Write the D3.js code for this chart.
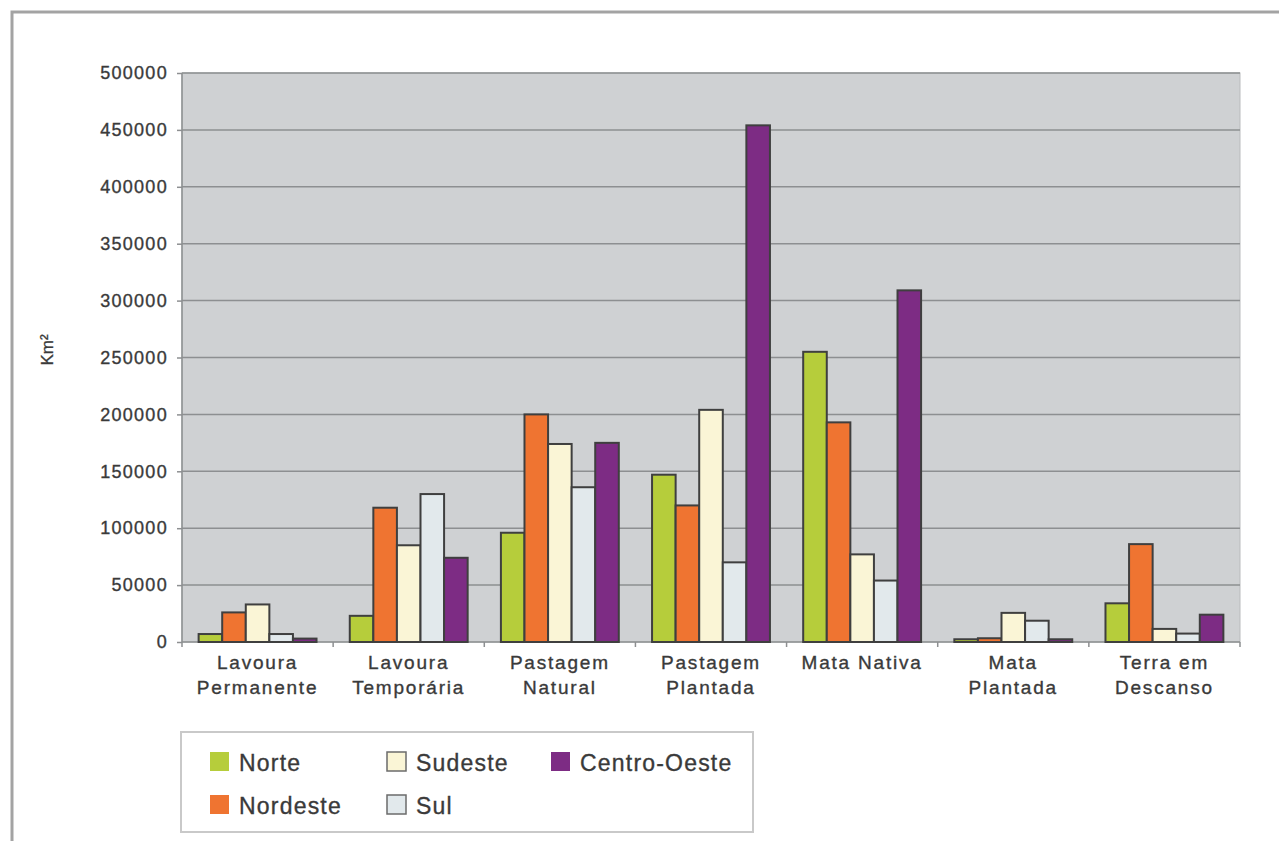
<!DOCTYPE html>
<html>
<head>
<meta charset="utf-8">
<script src="https://cdn.jsdelivr.net/npm/d3@7"></script>
<style>
  html, body { margin: 0; padding: 0; background: #fff; }
  svg { display: block; }
  text { font-family: "Liberation Sans", Arial, sans-serif; }
</style>
</head>
<body>
<svg id="chart" width="1279" height="841"></svg>
<script>
// categories (two-line labels)
const categories = [
  ["Lavoura", "Permanente"],
  ["Lavoura", "Temporária"],
  ["Pastagem", "Natural"],
  ["Pastagem", "Plantada"],
  ["Mata Nativa"],
  ["Mata", "Plantada"],
  ["Terra em", "Descanso"]
];
const regions = ["Norte", "Nordeste", "Sudeste", "Sul", "Centro-Oeste"];

// values in Km², one per category
const norte      = [7000, 23000, 96000, 147000, 255000, 2400, 34000];
const nordeste   = [26000, 118000, 200000, 120000, 193000, 3300, 86000];
const sudeste    = [33000, 85000, 174000, 204000, 77000, 25600, 11500];
const sul        = [7000, 130000, 136000, 70000, 54000, 18700, 7400];
const centroOeste = [3000, 74000, 175000, 454000, 309000, 2400, 24000];

const yTicks = [0, 50000, 100000, 150000, 200000, 250000, 300000, 350000, 400000, 450000, 500000];

const colors = {
  "Norte": "#b6cd3b",
  "Nordeste": "#ef7431",
  "Sudeste": "#faf5d6",
  "Sul": "#e2e9ec",
  "Centro-Oeste": "#7d2c84"
};

const seriesValues = { "Norte": norte, "Nordeste": nordeste, "Sudeste": sudeste, "Sul": sul, "Centro-Oeste": centroOeste };

const textColor = "#3a3a3a";
const svg = d3.select("#chart");
const plot = { left: 182, right: 1240, top: 73, bottom: 642 };

// outer frame (top and left edges)
svg.append("path")
  .attr("d", "M12,841 L12,12 L1279,12")
  .attr("fill", "none")
  .attr("stroke", "#a3a3a3")
  .attr("stroke-width", 3);

const x = d3.scaleBand()
  .domain(d3.range(categories.length))
  .range([plot.left, plot.right])
  .paddingInner(0.22)
  .paddingOuter(0.11);

const xs = d3.scaleBand()
  .domain(regions)
  .range([0, x.bandwidth()]);

const y = d3.scaleLinear()
  .domain([0, 500000])
  .range([plot.bottom, plot.top]);

// plot background
svg.append("rect")
  .attr("x", plot.left)
  .attr("y", plot.top)
  .attr("width", plot.right - plot.left)
  .attr("height", plot.bottom - plot.top)
  .attr("fill", "#cfd1d3")
  .attr("stroke", "#b9bbbd")
  .attr("stroke-width", 1);

// gridlines
svg.append("g")
  .selectAll("line")
  .data(yTicks)
  .enter()
  .append("line")
  .attr("x1", plot.left)
  .attr("x2", plot.right)
  .attr("y1", d => y(d))
  .attr("y2", d => y(d))
  .attr("stroke", "#8d8f91")
  .attr("stroke-width", 1.5);

// left axis line
svg.append("line")
  .attr("x1", plot.left).attr("x2", plot.left)
  .attr("y1", plot.top).attr("y2", plot.bottom)
  .attr("stroke", "#8d8f91")
  .attr("stroke-width", 1.5);

// y axis
const yAxis = svg.append("g")
  .attr("transform", `translate(${plot.left},0)`)
  .call(d3.axisLeft(y).tickValues(yTicks).tickSize(5).tickPadding(9).tickFormat(d3.format("d")));
yAxis.select(".domain").remove();
yAxis.selectAll(".tick line").attr("stroke", "#8d8f91").attr("stroke-width", 1.5);
yAxis.selectAll(".tick text")
  .attr("fill", textColor)
  .attr("stroke", textColor)
  .attr("stroke-width", 0.35)
  .attr("font-size", 18)
  .attr("letter-spacing", 1.3)
  .attr("font-family", "'Liberation Sans', Arial, sans-serif");

// x tick marks at category boundaries
const bounds = d3.range(categories.length + 1).map(i => plot.left + i * x.step());
svg.append("g")
  .selectAll("line")
  .data(bounds)
  .enter()
  .append("line")
  .attr("x1", d => d).attr("x2", d => d)
  .attr("y1", plot.bottom).attr("y2", plot.bottom + 5)
  .attr("stroke", "#8d8f91")
  .attr("stroke-width", 1.5);

// bars
const groups = svg.append("g")
  .selectAll("g")
  .data(categories.map((c, i) => i))
  .enter()
  .append("g")
  .attr("transform", i => `translate(${x(i)},0)`);

groups.selectAll("rect")
  .data(i => regions.map(r => ({ region: r, value: seriesValues[r][i] })))
  .enter()
  .append("rect")
  .attr("x", d => xs(d.region))
  .attr("y", d => y(d.value))
  .attr("width", xs.bandwidth())
  .attr("height", d => plot.bottom - y(d.value))
  .attr("fill", d => colors[d.region])
  .attr("stroke", "#3f3f3f")
  .attr("stroke-width", 2);

// category labels
const labels = svg.append("g")
  .selectAll("text")
  .data(categories.map((c, i) => ({ lines: c, i })))
  .enter()
  .append("text")
  .attr("x", d => x(d.i) + x.bandwidth() / 2)
  .attr("y", 669)
  .attr("text-anchor", "middle")
  .attr("fill", textColor)
  .attr("stroke", textColor)
  .attr("stroke-width", 0.35)
  .attr("font-size", 19)
  .attr("letter-spacing", 1.8);

labels.selectAll("tspan")
  .data(d => d.lines.map((t, k) => ({ t, k, x: x(d.i) + x.bandwidth() / 2 })))
  .enter()
  .append("tspan")
  .attr("x", d => d.x)
  .attr("dy", d => d.k === 0 ? 0 : 25)
  .text(d => d.t);

// y axis title
svg.append("text")
  .attr("transform", "translate(53,350) rotate(-90)")
  .attr("text-anchor", "middle")
  .attr("fill", textColor)
  .attr("stroke", textColor)
  .attr("stroke-width", 0.3)
  .attr("font-size", 17)
  .text("Km²");

// legend
const legend = svg.append("g");
legend.append("rect")
  .attr("x", 181).attr("y", 732)
  .attr("width", 572).attr("height", 100)
  .attr("fill", "#fff")
  .attr("stroke", "#c9c9c9")
  .attr("stroke-width", 2);

const legendPos = {
  "Norte": [210, 752],
  "Nordeste": [210, 795],
  "Sudeste": [387, 752],
  "Sul": [387, 795],
  "Centro-Oeste": [551, 752]
};

const items = legend.selectAll("g.item")
  .data(regions)
  .enter()
  .append("g")
  .attr("class", "item")
  .attr("transform", r => `translate(${legendPos[r][0]},${legendPos[r][1]})`);

items.append("rect")
  .attr("width", 19).attr("height", 19)
  .attr("fill", r => colors[r])
  .attr("stroke", r => (r === "Sudeste" || r === "Sul") ? "#6b6b6b" : "none")
  .attr("stroke-width", 1.5);

items.append("text")
  .attr("x", 29)
  .attr("y", 19)
  .attr("fill", textColor)
  .attr("stroke", textColor)
  .attr("stroke-width", 0.35)
  .attr("font-size", 23)
  .attr("letter-spacing", 1.2)
  .text(r => r);
</script>
</body>
</html>
